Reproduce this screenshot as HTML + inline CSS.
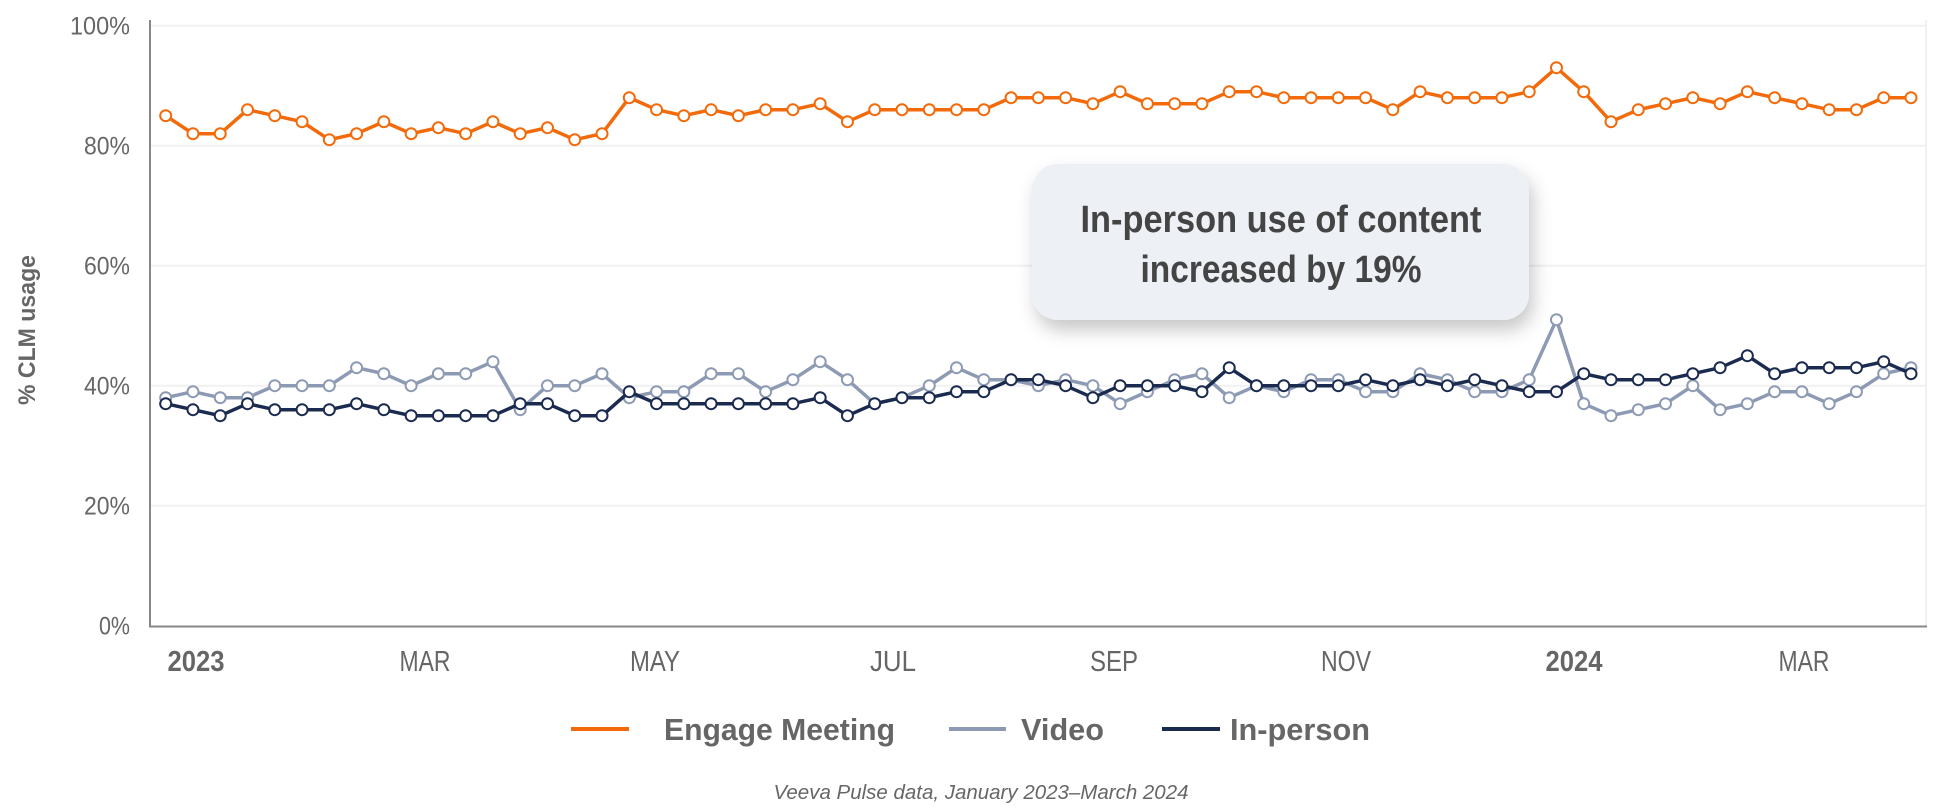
<!DOCTYPE html>
<html><head><meta charset="utf-8"><style>
html,body{margin:0;padding:0;background:#fff;}
svg{display:block;}
text{font-family:"Liberation Sans",sans-serif;}
</style></head><body>
<svg id="c" width="1959" height="812" viewBox="0 0 1959 812" xmlns="http://www.w3.org/2000/svg">
<defs>
<filter id="sh" x="-20%" y="-30%" width="140%" height="170%">
<feDropShadow dx="4" dy="10" stdDeviation="9" flood-color="#000" flood-opacity="0.22"/>
</filter>
</defs>
<g stroke="#f1f1f1" stroke-width="2">
<line x1="150" y1="25.7" x2="1926" y2="25.7"/>
<line x1="150" y1="145.7" x2="1926" y2="145.7"/>
<line x1="150" y1="265.7" x2="1926" y2="265.7"/>
<line x1="150" y1="385.7" x2="1926" y2="385.7"/>
<line x1="150" y1="505.7" x2="1926" y2="505.7"/>
<line x1="1926" y1="20" x2="1926" y2="626"/>
</g>
<line x1="150" y1="20" x2="150" y2="627" stroke="#888" stroke-width="2"/>
<line x1="149" y1="626.5" x2="1927" y2="626.5" stroke="#888" stroke-width="2"/>
<g fill="#666" font-size="25" text-anchor="end">
<text x="130" y="34.5" textLength="60" lengthAdjust="spacingAndGlyphs">100%</text>
<text x="130" y="154.5" textLength="46" lengthAdjust="spacingAndGlyphs">80%</text>
<text x="130" y="274.5" textLength="46" lengthAdjust="spacingAndGlyphs">60%</text>
<text x="130" y="394.5" textLength="46" lengthAdjust="spacingAndGlyphs">40%</text>
<text x="130" y="514.5" textLength="46" lengthAdjust="spacingAndGlyphs">20%</text>
<text x="130" y="634.5" textLength="31" lengthAdjust="spacingAndGlyphs">0%</text>
</g>
<text transform="translate(35,330) rotate(-90)" fill="#666" font-size="24" font-weight="bold" text-anchor="middle" textLength="150" lengthAdjust="spacingAndGlyphs">% CLM usage</text>
<g fill="#666" font-size="29" text-anchor="middle">
<text x="196" y="671" font-weight="bold" textLength="57" lengthAdjust="spacingAndGlyphs">2023</text>
<text x="425" y="671" textLength="51" lengthAdjust="spacingAndGlyphs">MAR</text>
<text x="655" y="671" textLength="50" lengthAdjust="spacingAndGlyphs">MAY</text>
<text x="893" y="671" textLength="46" lengthAdjust="spacingAndGlyphs">JUL</text>
<text x="1114" y="671" textLength="48" lengthAdjust="spacingAndGlyphs">SEP</text>
<text x="1346" y="671" textLength="50" lengthAdjust="spacingAndGlyphs">NOV</text>
<text x="1574" y="671" font-weight="bold" textLength="57" lengthAdjust="spacingAndGlyphs">2024</text>
<text x="1804" y="671" textLength="51" lengthAdjust="spacingAndGlyphs">MAR</text>
</g>
<g id="series"></g>
<rect x="1032" y="164" width="497" height="156" rx="26" fill="#edf0f5" filter="url(#sh)"/>
<g fill="#444" font-size="38" font-weight="bold" text-anchor="middle">
<text x="1281" y="232" textLength="401" lengthAdjust="spacingAndGlyphs">In-person use of content</text>
<text x="1281" y="282" textLength="281" lengthAdjust="spacingAndGlyphs">increased by 19%</text>
</g>
<g font-size="31" font-weight="bold" fill="#666">
<line x1="571" y1="729" x2="629" y2="729" stroke="#f26a0a" stroke-width="4"/>
<text x="664" y="740" textLength="231" lengthAdjust="spacingAndGlyphs">Engage Meeting</text>
<line x1="949" y1="729" x2="1006" y2="729" stroke="#8d9ab3" stroke-width="4"/>
<text x="1021" y="740" textLength="83" lengthAdjust="spacingAndGlyphs">Video</text>
<line x1="1162" y1="729" x2="1220" y2="729" stroke="#1b2b50" stroke-width="4"/>
<text x="1230" y="740" textLength="140" lengthAdjust="spacingAndGlyphs">In-person</text>
</g>
<text x="981" y="799" fill="#666" font-size="20" font-style="italic" text-anchor="middle" textLength="415" lengthAdjust="spacingAndGlyphs">Veeva Pulse data, January 2023–March 2024</text>
</svg>
<script>
var E=[85,82,82,86,85,84,81,82,84,82,83,82,84,82,83,81,82,88,86,85,86,85,86,86,87,84,86,86,86,86,86,88,88,88,87,89,87,87,87,89,89,88,88,88,88,86,89,88,88,88,89,93,89,84,86,87,88,87,89,88,87,86,86,88,88];
var V=[38,39,38,38,40,40,40,43,42,40,42,42,44,36,40,40,42,38,39,39,42,42,39,41,44,41,37,38,40,43,41,41,40,41,40,37,39,41,42,38,40,39,41,41,39,39,42,41,39,39,41,51,37,35,36,37,40,36,37,39,39,37,39,42,43];
var P=[37,36,35,37,36,36,36,37,36,35,35,35,35,37,37,35,35,39,37,37,37,37,37,37,38,35,37,38,38,39,39,41,41,40,38,40,40,40,39,43,40,40,40,40,41,40,41,40,41,40,39,39,42,41,41,41,42,43,45,42,43,43,43,44,42];
var g=document.getElementById('series'),ns='http://www.w3.org/2000/svg';
function X(i){return 165.7+i*27.27;}function Y(v){return 625.7-v*6;}
function draw(d,col,w){
 var p=d.map(function(v,i){return X(i).toFixed(1)+','+Y(v).toFixed(1)}).join(' ');
 var pl=document.createElementNS(ns,'polyline');pl.setAttribute('points',p);pl.setAttribute('fill','none');pl.setAttribute('stroke',col);pl.setAttribute('stroke-width',w);pl.setAttribute('stroke-linejoin','round');g.appendChild(pl);
 d.forEach(function(v,i){var c=document.createElementNS(ns,'circle');c.setAttribute('cx',X(i));c.setAttribute('cy',Y(v));c.setAttribute('r',5.5);c.setAttribute('fill','#fff');c.setAttribute('stroke',col);c.setAttribute('stroke-width',2);g.appendChild(c);});
}
draw(V,'#8d9ab3',3.5);draw(P,'#1b2b50',3.5);draw(E,'#f26a0a',3.5);
</script>
</body></html>
